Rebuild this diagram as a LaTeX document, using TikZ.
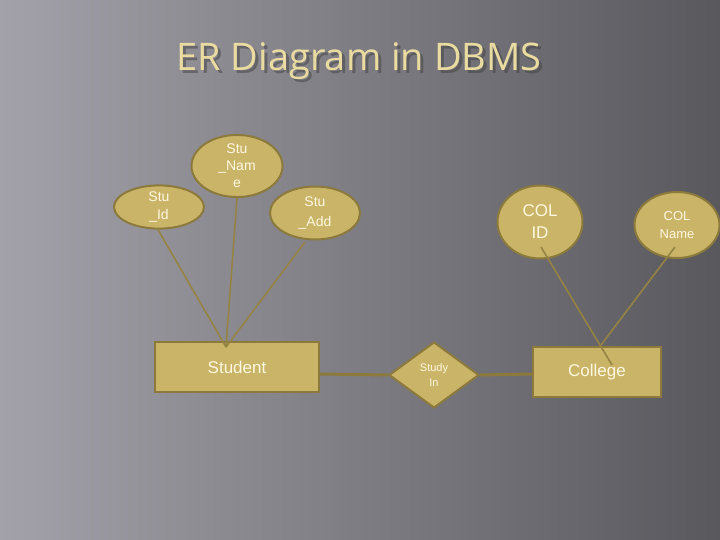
\documentclass[tikz,border=0pt]{standalone}
\usepackage{fontspec}
\setmainfont{Liberation Sans}
\newfontfamily\titlefont{Open Sans}
\usetikzlibrary{shapes.geometric,arrows.meta}
\definecolor{khaki}{HTML}{C9B468}
\definecolor{kborder}{HTML}{8C7A3C}
\definecolor{ktext}{HTML}{FFF8E0}
\definecolor{ttl}{HTML}{EADBA0}
\definecolor{bglight}{HTML}{A3A1A9}
\definecolor{bgmid}{HTML}{707077}
\definecolor{bgdark}{HTML}{58585D}
\tikzset{
  attr/.style={ellipse,fill=khaki,draw=kborder,line width=2pt,inner sep=0pt,text=ktext,align=center},
  ent/.style={rectangle,fill=khaki,draw=kborder,line width=2pt,text=ktext,inner sep=0pt},
  rel/.style={diamond,fill=khaki,draw=kborder,line width=2pt,text=ktext,inner sep=0pt,aspect=1.36,align=center},
  link/.style={draw=kborder!85!khaki,line width=1.6pt},
  thick link/.style={draw=kborder,line width=3pt}
}
\begin{document}
\begin{tikzpicture}[x=1pt,y=-1pt]
\useasboundingbox (0,0) rectangle (720,540);
\shade[left color=bglight,middle color=bgmid,right color=bgdark] (0,0) rectangle (720,540);
\node[text=black!75,opacity=0.5,font=\titlefont\fontsize{38}{40}\selectfont] (shadow) at (362,64) {ER Diagram in DBMS};
\node[text=ttl,font=\titlefont\fontsize{38}{40}\selectfont] (title) at (359,61) {ER Diagram in DBMS};

\node[ent,minimum width=164pt,minimum height=50pt,font=\fontsize{17}{19}\selectfont] (student) at (237,367) {Student};
\node[ent,minimum width=128pt,minimum height=50pt,font=\fontsize{17}{19}\selectfont] (college) at (597,372) {College};
\node[rel,minimum width=90pt,minimum height=66pt,font=\fontsize{11}{15}\selectfont] (study) at (434,375) {Study\\In};

\node[attr,minimum width=90pt,minimum height=41pt,font=\fontsize{14}{18}\selectfont] (sid) at (159,207) {Stu\\\_Id};
\node[attr,minimum width=91pt,minimum height=55pt,font=\fontsize{14}{17}\selectfont] (sname) at (237,166) {Stu\\\_Nam\\e};
\node[attr,minimum width=90pt,minimum height=53pt,font=\fontsize{14}{20}\selectfont] (sadd) at (315,213) {Stu\\\_Add};
\node[attr,minimum width=85pt,minimum height=73pt,font=\fontsize{17}{22}\selectfont] (colid) at (540,222) {COL\\ID};
\node[attr,minimum width=85pt,minimum height=66pt,font=\fontsize{13}{18}\selectfont] (colname) at (677,225) {COL\\Name};

\coordinate (stop) at (226,347);
\coordinate (ctop) at (601,345);
\coordinate (cin) at (612,365);
\draw[thick link] (student.east |- 0,374) -- (study.west);
\draw[thick link] (study.east) -- (college.west |- 0,374);
\draw[link] (157,228) -- (stop);
\draw[link] (sname.south) -- (stop);
\draw[link] (305,242) -- (stop);
\draw[link] (541,247) -- (cin);
\draw[link] (675,247) -- (ctop);
\end{tikzpicture}
\end{document}
